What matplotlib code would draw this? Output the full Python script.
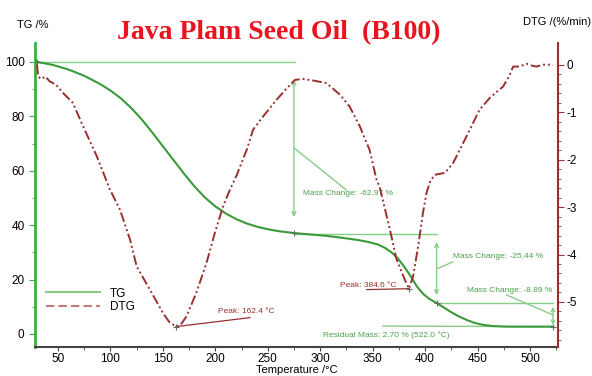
import numpy as np
import matplotlib
matplotlib.use("Agg")
import matplotlib.pyplot as plt
from matplotlib.lines import Line2D

# TG curve (mass %)
tg_temp = [30, 45, 60, 75, 90, 100, 110, 120, 130, 140, 150, 160, 170, 180, 190, 200,
           210, 220, 230, 240, 250, 260, 275, 290, 305, 320, 335, 345, 355, 362, 368,
           374, 380, 386, 392, 398, 404, 411, 418, 425, 432, 440, 448, 456, 465, 478,
           500, 522]
tg_mass = [100, 98.9, 97.2, 94.9, 91.9, 89.5, 86.6, 83.0, 78.8, 74.0, 69.0, 64.0, 59.0,
           54.3, 50.2, 46.9, 44.3, 42.2, 40.6, 39.4, 38.5, 37.8, 37.1, 36.6, 36.1, 35.4,
           34.6, 33.9, 32.9, 31.6, 30.0, 27.8, 24.8, 21.4, 17.6, 14.8, 12.9, 11.4, 9.7,
           8.0, 6.5, 5.1, 4.0, 3.3, 2.9, 2.7, 2.7, 2.7]

# DTG curve (%/min)
dtg_temp = [30, 31, 34, 38, 42, 48, 55, 64, 74, 87, 99.5, 109, 118.6, 125, 137.6, 150,
            156, 162.4, 168, 172.6, 182, 191.7, 199.6, 207.5, 214, 220, 230, 236, 245.6,
            258.4, 268, 276, 284, 295, 306, 318.8, 328, 337.8, 347, 353.7, 357, 366.4,
            372.8, 380.7, 384.6, 388.6, 393.4, 398, 401.4, 405, 409.3, 414, 419, 426.8,
            439.5, 452, 461.7, 474.4, 480, 484, 490, 496.7, 502, 506, 512.5, 522]
dtg_val = [0, -0.25, -0.3, -0.25, -0.35, -0.42, -0.6, -0.8, -1.3, -1.93, -2.63, -3.05,
           -3.68, -4.25, -4.74, -5.23, -5.42, -5.52, -5.45, -5.3, -4.8, -4.17, -3.54, -2.98,
           -2.63, -2.35, -1.79, -1.37, -1.09, -0.74, -0.5, -0.32, -0.3, -0.34, -0.39,
           -0.63, -0.88, -1.3, -1.79, -2.42, -2.6, -3.47, -4.1, -4.53, -4.72, -4.46, -3.83,
           -3.12, -2.7, -2.45, -2.32, -2.3, -2.28, -2.07, -1.51, -0.95, -0.7, -0.46,
           -0.25, -0.04, -0.04, 0.02, -0.02, -0.04, 0, 0]

tg_marks_t = [30, 275, 411, 522]
tg_marks_v = [100, 37.1, 11.4, 2.7]
peak_t = [162.4, 384.6]
peak_v = [-5.52, -4.72]

green = "#3a9a3a"
lgreen = "#88cc88"
dred = "#9a2f2f"

plt.rcParams['font.family'] = ['Liberation Sans', 'DejaVu Sans']

fig = plt.figure(figsize=(5.92, 3.76), dpi=100)
ax = fig.add_axes([0.059, 0.077, 0.884, 0.809])
ax2 = ax.twinx()

ax.plot(tg_temp, tg_mass, color=green, lw=1.5, zorder=3)
ax2.plot(dtg_temp, dtg_val, color=dred, lw=1.4, dashes=(5, 1.5, 1, 1.5, 1, 1.5))

ax.set_xlim(28, 527)
ax.set_ylim(-4.8, 107)
ax2.set_ylim(-5.95, 0.46)

# TG step annotations
ax.plot([30, 276], [100, 100], color=lgreen, lw=1)
ax.annotate("", xy=(275, 43), xytext=(275, 93.5),
            arrowprops=dict(arrowstyle="<->", color=lgreen, lw=1, shrinkA=0, shrinkB=0,
                            mutation_scale=7))
ax.plot([275, 325], [68.4, 52.9], color=lgreen, lw=1)
ax.text(283.5, 51.5, "Mass Change: -62.97 %", color="#4aa04a", fontsize=6, va="center")

ax.plot([275, 411], [36.9, 36.9], color=lgreen, lw=1)
ax.annotate("", xy=(411, 14.3), xytext=(411, 33.8),
            arrowprops=dict(arrowstyle="<->", color=lgreen, lw=1, shrinkA=0, shrinkB=0,
                            mutation_scale=7))
ax.plot([411, 426.5], [23.9, 26.5], color=lgreen, lw=1)
ax.text(426.5, 28.5, "Mass Change: -25.44 %", color="#4aa04a", fontsize=6, va="center")

ax.plot([411, 522], [11.4, 11.4], color=lgreen, lw=1)
ax.annotate("", xy=(522, 3.3), xytext=(522, 10.0),
            arrowprops=dict(arrowstyle="<->", color=lgreen, lw=1, shrinkA=0, shrinkB=0,
                            mutation_scale=6))
ax.plot([522, 478], [7.0, 14.3], color=lgreen, lw=1)
ax.text(439.8, 16.0, "Mass Change: -8.89 %", color="#4aa04a", fontsize=6, va="center")

ax.plot([359.7, 522], [2.9, 2.7], color=lgreen, lw=1)
ax.text(302.5, -0.6, "Residual Mass: 2.70 % (522.0 \u00b0C)", color="#4aa04a",
        fontsize=6, va="center")
ax.plot(tg_marks_t, tg_marks_v, "+", color="#666666", ms=5, mew=0.8, zorder=4)

# DTG peaks
ax2.plot([162.4, 233], [-5.52, -5.33], color=dred, lw=0.9)
ax2.text(202.5, -5.2, "Peak: 162.4 \u00b0C", color=dred, fontsize=6, va="center")
ax2.plot([344.5, 384.6], [-4.74, -4.72], color=dred, lw=0.9)
ax2.text(318.8, -4.66, "Peak: 384.6 \u00b0C", color=dred, fontsize=6, va="center")
ax2.plot(peak_t, peak_v, "+", color="#666666", ms=5, mew=0.8)

# axes styling
ax.spines['top'].set_visible(False)
ax2.spines['top'].set_visible(False)
ax.spines['right'].set_visible(False)
ax.spines['left'].set_color("#3cb043")
ax.spines['left'].set_linewidth(2)
ax2.spines['left'].set_visible(False)
ax2.spines['bottom'].set_visible(False)
ax2.spines['right'].set_color(dred)
ax2.spines['right'].set_linewidth(1.5)
ax.spines['bottom'].set_color("#444444")
ax.spines['bottom'].set_linewidth(1.5)

ax.set_xticks(np.arange(50, 501, 50))
ax.set_xticks(np.arange(50, 526, 25), minor=True)
ax.set_yticks(np.arange(0, 101, 20))
ax.set_yticks(np.arange(0, 101, 10), minor=True)
ax2.set_yticks(np.arange(0, -5.5, -1))
ax2.set_yticks(np.arange(0, -5.9, -0.2), minor=True)
ax2.set_yticklabels(["0", "-1", "-2", "-3", "-4", "-5"])

ax.tick_params(axis='x', labelsize=8.5, length=3, color="#444444", pad=1)
ax.tick_params(axis='x', which='minor', length=2, color="#444444")
ax.tick_params(axis='y', labelsize=8.5, length=4, color="#3cb043")
ax.tick_params(axis='y', which='minor', length=2.5, color="#3cb043")
ax2.tick_params(axis='y', labelsize=8.5, length=4, color=dred, pad=2)
ax2.tick_params(axis='y', which='minor', length=2.5, color=dred)

handles = [Line2D([], [], color=lgreen, lw=1.5),
           Line2D([], [], color="#c07b7b", lw=1.5, dashes=(4, 2))]
ax.legend(handles, ["TG", "DTG"], loc="upper left", bbox_to_anchor=(0.01, 0.215),
          frameon=False, fontsize=8.5, handlelength=4.6, borderpad=0, labelspacing=0.15,
          handletextpad=0.8)

fig.text(17 / 592, 0.934, "TG /%", fontsize=8, va="center")
fig.text(523 / 592, 0.941, "DTG /(%/min)", fontsize=8, va="center")
fig.text(297 / 592, 0.016, "Temperature /\u00b0C", fontsize=8, ha="center", va="center")
fig.text(0.471, 0.912, "Java Plam Seed Oil  (B100)", fontsize=20, fontweight="bold",
         family="Liberation Serif", color="#e8141e", ha="center", va="center")

fig.savefig("out.png", dpi=100)
